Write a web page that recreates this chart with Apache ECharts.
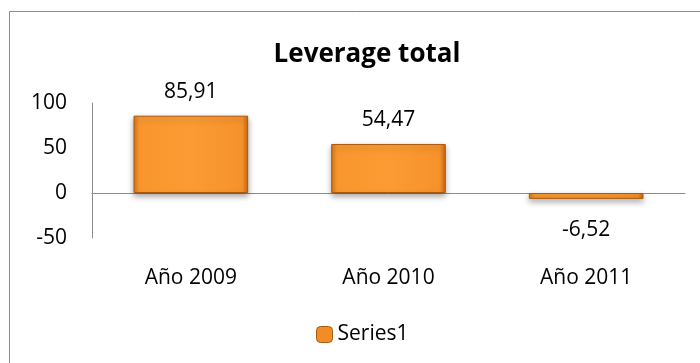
<!DOCTYPE html>
<html>
<head>
<meta charset="utf-8">
<script src="https://cdn.jsdelivr.net/npm/echarts@6/dist/echarts.min.js"></script>
<style>
html,body{margin:0;padding:0;background:#fff;}
#chart{width:700px;height:363px;}
</style>
</head>
<body>
<div id="chart"></div>
<script>
const categories = ['Año 2009', 'Año 2010', 'Año 2011'];
const series1 = [85.91, 54.47, -6.52];
const seriesName = 'Series1';
const chartTitle = 'Leverage total';

const FONT = '"Open Sans", "Liberation Sans", sans-serif';
const chart = echarts.init(document.getElementById('chart'), null, {renderer: 'canvas'});

// bevelled orange fill: darker rims, bright body
const barFill = new echarts.graphic.LinearGradient(0, 0, 1, 0, [
  {offset: 0, color: '#D9761A'},
  {offset: 0.05, color: '#F9972E'},
  {offset: 0.5, color: '#FC9B33'},
  {offset: 0.95, color: '#F6922B'},
  {offset: 1, color: '#C9680F'}
]);

chart.setOption({
  animation: false,
  title: {
    text: chartTitle,
    left: 362, top: 37, textAlign: 'center',
    textStyle: {fontFamily: FONT, fontWeight: 'bold', fontSize: 26, color: '#000'}
  },
  graphic: [{
    type: 'rect', shape: {x: 9.5, y: 11.5, width: 720, height: 400},
    style: {fill: 'none', stroke: '#8c8c8c', lineWidth: 1}, silent: true, z: -1
  }],
  legend: {
    data: [{name: seriesName, itemStyle: {color: '#F28C26', borderColor: '#A85A10', borderWidth: 1}}],
    left: 311, top: 319, itemWidth: 16, itemHeight: 16, itemGap: 3,
    textStyle: {fontFamily: FONT, fontSize: 21, color: '#000'}
  },
  grid: {left: 92, right: 15, top: 103, bottom: 125, containLabel: false},
  xAxis: {
    type: 'category', data: categories,
    axisLine: {onZero: true, lineStyle: {color: '#8c8c8c', width: 1}},
    axisTick: {show: false},
    axisLabel: {fontFamily: FONT, fontSize: 21, color: '#000', margin: 30}
  },
  yAxis: {
    type: 'value', min: -50, max: 100, interval: 50,
    axisLine: {show: true, lineStyle: {color: '#8c8c8c'}},
    axisTick: {show: false},
    splitLine: {show: false},
    axisLabel: {fontFamily: FONT, fontSize: 21, color: '#000', margin: 25, padding: [3, 0, 0, 0]}
  },
  series: [{
    name: seriesName, type: 'bar', barWidth: '58%',
    data: series1.map(v => v < 0 ? {value: v, label: {position: 'bottom', distance: 21}} : v),
    itemStyle: {
      color: barFill, borderColor: '#A85A10', borderWidth: 1,
      shadowColor: 'rgba(0,0,0,0.35)', shadowBlur: 6, shadowOffsetY: 3
    },
    label: {
      show: true, position: 'top', distance: 13,
      fontFamily: FONT, fontSize: 21, color: '#000',
      formatter: p => p.value.toFixed(2).replace('.', ',')
    }
  }]
});
</script>
</body>
</html>
